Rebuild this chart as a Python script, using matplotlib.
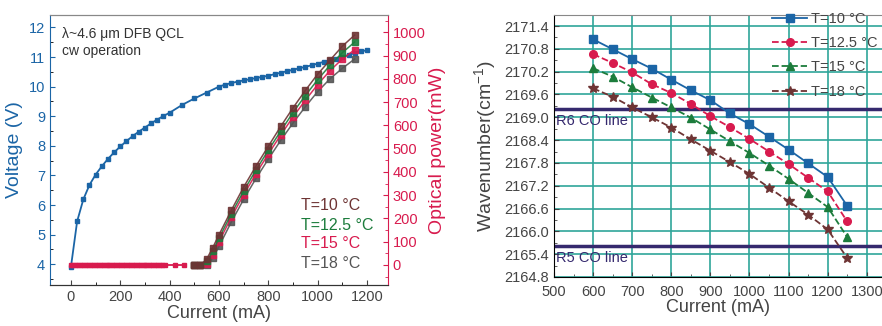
import numpy as np
import matplotlib.pyplot as plt
from matplotlib.ticker import MultipleLocator

plt.rcParams['font.family'] = ['Liberation Sans', 'DejaVu Sans']
plt.rcParams['mathtext.fontset'] = 'custom'
plt.rcParams['mathtext.rm'] = 'Liberation Sans'

# ---- left panel: L-I-V ----
cur_v = [0, 25, 50, 75, 100, 125, 150, 175, 200, 225, 250, 275, 300, 325, 350, 375, 400,
         450, 500, 550, 600, 625, 650, 675, 700, 725, 750, 775, 800, 825, 850, 875, 900,
         925, 950, 975, 1000, 1025, 1050, 1075, 1100, 1125, 1150, 1175, 1200]
volt = [3.92, 5.45, 6.19, 6.68, 7.03, 7.31, 7.56, 7.78, 7.98, 8.16, 8.33, 8.48, 8.62, 8.76,
        8.89, 9.01, 9.12, 9.38, 9.60, 9.80, 10.00, 10.07, 10.12, 10.17, 10.21, 10.25, 10.29,
        10.33, 10.37, 10.42, 10.47, 10.52, 10.57, 10.62, 10.67, 10.72, 10.78, 10.84, 10.90,
        10.95, 11.00, 11.07, 11.13, 11.19, 11.23]

cur_p = [500, 525, 550, 575, 600, 650, 700, 750, 800, 850, 900, 950, 1000, 1050, 1100, 1150]
pow_10 = [0, 0, 25, 75, 130, 235, 335, 425, 510, 595, 675, 750, 820, 880, 940, 988]
pow_125 = [0, 0, 15, 60, 115, 220, 318, 408, 493, 575, 655, 728, 796, 858, 912, 958]
pow_15 = [0, 0, 5, 45, 100, 205, 302, 392, 477, 558, 636, 708, 775, 835, 885, 925]
pow_18 = [0, 0, 0, 30, 80, 185, 282, 372, 455, 535, 610, 680, 745, 800, 845, 885]
# below threshold (only the T=15 trace is visible there)
cur_base = list(range(0, 390, 10)) + [420, 460]
pow_base = [0] * len(cur_base)

# ---- right panel: tuning ----
cur_w = [600, 650, 700, 750, 800, 850, 900, 950, 1000, 1050, 1100, 1150, 1200, 1250]
wn_10 = [2171.05, 2170.79, 2170.53, 2170.28, 2169.99, 2169.71, 2169.45, 2169.10, 2168.82,
         2168.49, 2168.15, 2167.79, 2167.43, 2166.67]
wn_125 = [2170.66, 2170.43, 2170.18, 2169.87, 2169.64, 2169.35, 2169.03, 2168.74, 2168.43,
          2168.10, 2167.77, 2167.41, 2167.05, 2166.26]
wn_15 = [2170.29, 2170.07, 2169.79, 2169.52, 2169.26, 2168.99, 2168.68, 2168.37, 2168.06,
         2167.73, 2167.38, 2167.01, 2166.64, 2165.85]
wn_18 = [2169.76, 2169.54, 2169.26, 2169.00, 2168.73, 2168.42, 2168.12, 2167.82, 2167.51,
         2167.15, 2166.79, 2166.44, 2166.05, 2165.30]
r6_line = 2169.21
r5_line = 2165.61

temps = ['T=10 °C', 'T=12.5 °C', 'T=15 °C', 'T=18 °C']

blue = '#1b65a6'
red = '#d81b4e'
brown = '#6e3434'
green = '#1c7c3c'
gray = '#555555'
navy = '#35296e'
teal = '#2fa59a'
txt = '#444444'

fig = plt.figure(figsize=(8.82, 3.26), dpi=100)

# left
ax = fig.add_axes([50 / 882, 41 / 326, 338 / 882, 270 / 326])
ax.plot(cur_v, volt, '-s', color=blue, ms=3.3, lw=1.3, zorder=3)
ax.set_xlim(-85, 1285)
ax.set_ylim(3.3, 12.42)
ax.set_xticks(np.arange(0, 1201, 200))
ax.set_yticks(np.arange(4, 13, 1))
ax.xaxis.set_minor_locator(MultipleLocator(100))
ax.yaxis.set_minor_locator(MultipleLocator(0.5))
ax.tick_params(axis='both', which='both', direction='in', labelsize=10.5)
ax.tick_params(axis='x', colors=txt)
ax.tick_params(axis='y', colors=blue)
ax.set_xlabel('Current (mA)', fontsize=13, color=txt, labelpad=1)
ax.set_ylabel('Voltage (V)', fontsize=14, color=blue, labelpad=4)
ax.spines['left'].set_color(blue)
ax.spines['top'].set_color('#888888')
ax.spines['bottom'].set_color('#333333')
ax.spines['right'].set_visible(False)
ax.text(0.035, 0.93, 'λ~4.6 μm DFB QCL', transform=ax.transAxes, fontsize=10, color='#333333',
        va='center')
ax.text(0.035, 0.865, 'cw operation', transform=ax.transAxes, fontsize=10, color='#333333',
        va='center')

ax2 = ax.twinx()
ax2.plot(cur_base, pow_base, '-s', color=red, ms=3.5, lw=1.3)
for p, c in zip([pow_18, pow_15, pow_125, pow_10], [gray, red, green, brown]):
    ax2.plot(cur_p, p, '-s', color=c, ms=3.8, lw=1.1, mec=c, alpha=0.9)
ax2.set_ylim(-86, 1074)
ax2.set_yticks(np.arange(0, 1001, 100))
ax2.yaxis.set_minor_locator(MultipleLocator(50))
ax2.tick_params(axis='y', which='both', direction='in', colors=red, labelsize=10.5)
ax2.set_ylabel('Optical power(mW)', fontsize=14, color=red, labelpad=2)
ax2.spines['right'].set_color(red)
ax2.spines['left'].set_visible(False)
ax2.spines['top'].set_color('#888888')
ax2.spines['bottom'].set_color('#333333')
for t, c, yy in zip(temps, [brown, green, red, gray], [205, 226, 244, 263]):
    fig.text(301 / 882, 1 - yy / 326, t, color=c, fontsize=11.5, va='center')

# right
bx = fig.add_axes([554 / 882, 49 / 326, 328 / 882, 262 / 326])
bx.set_xlim(500, 1339)
bx.set_ylim(2164.8, 2171.69)
bx.set_xticks(np.arange(500, 1301, 100))
bx.set_yticks(np.round(np.arange(2164.8, 2171.5, 0.6), 1))
bx.set_yticklabels([f'{v:.1f}' for v in np.arange(2164.8, 2171.5, 0.6)])
bx.xaxis.set_minor_locator(MultipleLocator(50))
bx.yaxis.set_minor_locator(MultipleLocator(0.3))
bx.grid(True, which='major', color=teal, lw=1.2)
bx.set_axisbelow(True)
bx.tick_params(axis='both', which='both', direction='in', colors=txt, labelsize=10.5)
bx.tick_params(axis='x', pad=6)
bx.spines['right'].set_visible(False)
bx.spines['top'].set_color('#888888')
bx.set_xlabel('Current (mA)', fontsize=13, color=txt, labelpad=0)
bx.set_ylabel('Wavenumber(cm$^{-1}$)', fontsize=14, color=txt, labelpad=4)

bx.axhline(r6_line, color=navy, lw=2.5, zorder=2)
bx.axhline(r5_line, color=navy, lw=2.5, zorder=2)
bx.text(505, r6_line - 0.12, 'R6 CO line', color=navy, fontsize=10.5, va='top')
bx.text(505, r5_line - 0.12, 'R5 CO line', color=navy, fontsize=10.5, va='top')

series = [(wn_10, blue, 's', '-'), (wn_125, red, 'o', '--'),
          (wn_15, green, '^', '--'), (wn_18, brown, '*', '--')]
handles = []
for (w, c, m, ls), lab in zip(series, temps):
    h, = bx.plot(cur_w, w, ls=ls, marker=m, color=c, ms=7 if m == '*' else 5.5, lw=1.3,
                 label=lab, zorder=3)
    handles.append(h)
fig.legend(handles=handles, loc='upper left', bbox_to_anchor=(772 / 882, 1 - 12 / 326),
           frameon=False, fontsize=10.5, labelcolor=txt, handlelength=2.4,
           handletextpad=0.3, labelspacing=0.7, borderpad=0, borderaxespad=0)

fig.savefig('out.png', dpi=100)
